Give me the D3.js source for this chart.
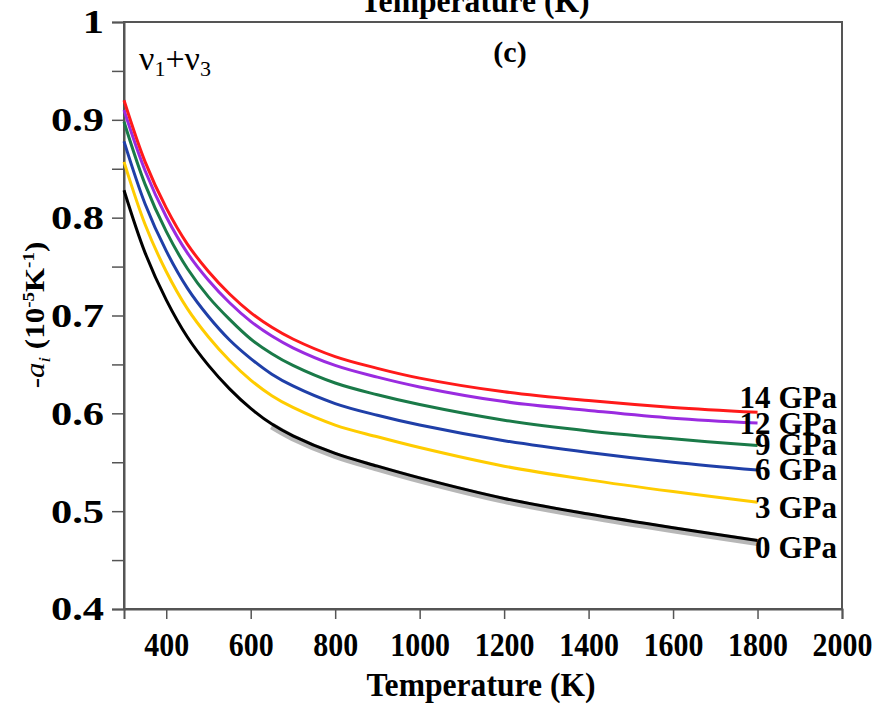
<!DOCTYPE html>
<html>
<head>
<meta charset="utf-8">
<script src="https://cdn.jsdelivr.net/npm/d3@7"></script>
<style>
  html, body { margin: 0; padding: 0; background: #fff; }
  svg { display: block; }
  text { font-family: "Liberation Serif", "Times New Roman", serif; }
</style>
</head>
<body>
<svg id="chart" width="874" height="707"></svg>
<script>
// Temperature grid (K) on which each pressure curve is sampled
const temperature = [300, 350, 400, 450, 500, 550, 600, 650, 700, 800, 900, 1000, 1200, 1400, 1600, 1800];

// -a_i (10^-5 K^-1) for the ν1+ν3 mode at each pressure
const gpa0  = [0.828, 0.764, 0.716, 0.678, 0.649, 0.625, 0.605, 0.589, 0.577, 0.559, 0.546, 0.534, 0.513, 0.497, 0.483, 0.470];
const gpa3  = [0.857, 0.793, 0.745, 0.707, 0.678, 0.654, 0.634, 0.618, 0.606, 0.588, 0.576, 0.565, 0.546, 0.532, 0.520, 0.509];
const gpa6  = [0.878, 0.814, 0.766, 0.728, 0.699, 0.675, 0.656, 0.640, 0.628, 0.610, 0.598, 0.588, 0.572, 0.560, 0.550, 0.542];
const gpa9  = [0.898, 0.834, 0.786, 0.748, 0.719, 0.696, 0.676, 0.661, 0.649, 0.631, 0.619, 0.609, 0.593, 0.582, 0.574, 0.567];
const gpa12 = [0.910, 0.848, 0.801, 0.764, 0.736, 0.713, 0.694, 0.679, 0.667, 0.649, 0.637, 0.627, 0.612, 0.603, 0.595, 0.590];
const gpa14 = [0.920, 0.857, 0.810, 0.773, 0.745, 0.722, 0.703, 0.688, 0.676, 0.658, 0.646, 0.636, 0.622, 0.613, 0.606, 0.601];

const seriesNames = ["0 GPa", "3 GPa", "6 GPa", "9 GPa", "12 GPa", "14 GPa"];
const seriesValues = [gpa0, gpa3, gpa6, gpa9, gpa12, gpa14];
const seriesColors = ["#000000", "#ffcc00", "#1f3fa8", "#1a7a48", "#9a2be0", "#ff1a1a"];

const xTicks = [400, 600, 800, 1000, 1200, 1400, 1600, 1800, 2000];
const yTicks = [0.4, 0.45, 0.5, 0.55, 0.6, 0.65, 0.7, 0.75, 0.8, 0.85, 0.9, 0.95, 1];
const yLabels = { "0.4": "0.4", "0.5": "0.5", "0.6": "0.6", "0.7": "0.7", "0.8": "0.8", "0.9": "0.9", "1": "1" };

const svg = d3.select("#chart");
const plotLeft = 124, plotRight = 842, plotTop = 22, plotBottom = 609;

const x = d3.scaleLinear().domain([300, 2000]).range([plotLeft, plotRight]);
const y = d3.scaleLinear().domain([0.4, 1]).range([plotBottom, plotTop]);

const axisColor = "#555";
const serif = "Liberation Serif, Times New Roman, serif";

// frame
svg.append("rect")
  .attr("x", plotLeft).attr("y", plotTop)
  .attr("width", plotRight - plotLeft).attr("height", plotBottom - plotTop)
  .attr("fill", "none").attr("stroke", axisColor).attr("stroke-width", 2);

// left axis
const yAxis = svg.append("g")
  .attr("transform", `translate(${plotLeft},0)`)
  .call(d3.axisLeft(y)
    .tickValues(yTicks)
    .tickSize(12)
    .tickPadding(8)
    .tickFormat(d => yLabels[String(+d.toFixed(2))] || ""));
yAxis.select(".domain").attr("stroke", axisColor).attr("stroke-width", 2);
yAxis.selectAll(".tick line").attr("stroke", axisColor).attr("stroke-width", 1.5);
yAxis.selectAll(".tick text")
  .attr("fill", "#000")
  .attr("x", -16)
  .attr("transform", "scale(1.25,1)")
  .style("font-family", serif)
  .style("font-weight", "bold")
  .style("font-size", "34px");

// bottom axis
const xAxis = svg.append("g")
  .attr("transform", `translate(0,${plotBottom})`)
  .call(d3.axisBottom(x)
    .tickValues(xTicks)
    .tickSize(10)
    .tickPadding(13)
    .tickFormat(d3.format("d")));
xAxis.select(".domain").attr("stroke", axisColor).attr("stroke-width", 2);
xAxis.selectAll(".tick line").attr("stroke", axisColor).attr("stroke-width", 1.5);
xAxis.selectAll(".tick text")
  .attr("fill", "#000")
  .attr("transform", "scale(0.88,1)")
  .style("font-family", serif)
  .style("font-weight", "bold")
  .style("font-size", "34px");

const line = d3.line()
  .x((d, i) => x(temperature[i]))
  .y(d => y(d))
  .curve(d3.curveCatmullRom.alpha(0.5));

// soft grey shadow along the 0 GPa curve at higher temperatures
const shadowIdx = temperature.map((t, i) => i).filter(i => temperature[i] >= 650);
svg.append("path")
  .datum(shadowIdx)
  .attr("d", d3.line()
    .x(i => x(temperature[i]))
    .y(i => y(gpa0[i]))
    .curve(d3.curveCatmullRom.alpha(0.5)))
  .attr("transform", "translate(0,2)")
  .attr("fill", "none")
  .attr("stroke", "#999")
  .attr("stroke-opacity", 0.7)
  .attr("stroke-width", 7);

// pressure curves
svg.append("g").selectAll("path")
  .data(seriesValues)
  .join("path")
  .attr("d", line)
  .attr("fill", "none")
  .attr("stroke", (d, i) => seriesColors[i])
  .attr("stroke-width", 3);

// curve labels at the right end
const labelBaselines = [558, 518, 480, 455, 434, 408];
svg.append("g").selectAll("text")
  .data(seriesNames)
  .join("text")
  .attr("transform", (d, i) => `translate(837,${labelBaselines[i]}) scale(0.97,1)`)
  .attr("text-anchor", "end")
  .style("font-weight", "bold")
  .style("font-size", "32px")
  .text(d => d);

// axis titles
svg.append("text")
  .attr("transform", "translate(481,696) scale(0.93,1)")
  .attr("text-anchor", "middle")
  .style("font-weight", "bold")
  .style("font-size", "34px")
  .text("Temperature (K)");

// second title copy sitting at the top edge, mostly off the canvas
svg.append("text")
  .attr("transform", "translate(475,12) scale(0.93,1)")
  .attr("text-anchor", "middle")
  .style("font-weight", "bold")
  .style("font-size", "34px")
  .text("Temperature (K)");

const yTitle = svg.append("text")
  .attr("transform", "translate(44,315) rotate(-90) scale(1,0.85)")
  .attr("text-anchor", "middle")
  .style("font-size", "31px");
yTitle.append("tspan").text("-");
yTitle.append("tspan").style("font-style", "italic").text("a");
yTitle.append("tspan").style("font-style", "italic").style("font-size", "20px").attr("dy", 7).text("i");
yTitle.append("tspan").style("font-weight", "bold").attr("dy", -7).text(" (10");
yTitle.append("tspan").style("font-weight", "bold").style("font-size", "19px").attr("dy", -12).text("-5");
yTitle.append("tspan").style("font-weight", "bold").attr("dy", 12).text("K");
yTitle.append("tspan").style("font-weight", "bold").style("font-size", "19px").attr("dy", -12).text("-1");
yTitle.append("tspan").style("font-weight", "bold").attr("dy", 12).text(")");

// panel annotations
const mode = svg.append("text")
  .attr("x", 139).attr("y", 70)
  .style("font-size", "34px");
mode.append("tspan").text("ν");
mode.append("tspan").style("font-size", "22px").attr("dy", 6).text("1");
mode.append("tspan").attr("dy", -6).text("+ν");
mode.append("tspan").style("font-size", "22px").attr("dy", 6).text("3");

svg.append("text")
  .attr("x", 510).attr("y", 62)
  .attr("text-anchor", "middle")
  .style("font-weight", "bold")
  .style("font-size", "30px")
  .text("(c)");
</script>
</body>
</html>
